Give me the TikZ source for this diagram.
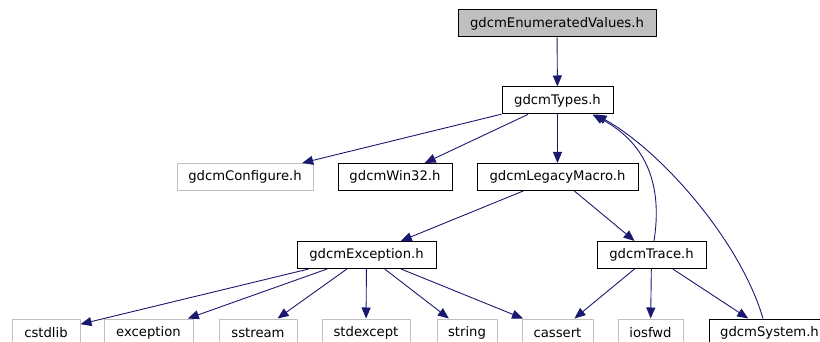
\documentclass[tikz,border=0pt]{standalone}
\usepackage{fontspec}
\setmainfont{DejaVu Sans}
\usetikzlibrary{arrows.meta}
\definecolor{edgecol}{RGB}{25,25,112}
\definecolor{grayb}{RGB}{191,191,191}
\definecolor{fillg}{RGB}{191,191,191}
\tikzset{
  box/.style={draw=black, line width=1pt, rectangle, inner sep=0pt, minimum height=27pt, font=\fontsize{13.2}{15}\selectfont, text=black, fill=white},
  extbox/.style={box, draw=grayb},
  dep/.style={draw=edgecol, line width=0.9pt, -{Triangle[length=11pt,width=9pt]}},
}
\begin{document}
\begin{tikzpicture}[x=1pt,y=-1pt]
\useasboundingbox (0,0) rectangle (820,342);
\clip (0,0) rectangle (820,342);
\node[box, fill=fillg, minimum width=198pt] (enum) at (557,23.5) {gdcmEnumeratedValues.h};
\node[box, minimum width=111pt] (types) at (557.5,100.5) {gdcmTypes.h};
\node[extbox, minimum width=136pt] (configure) at (245,177) {gdcmConfigure.h};
\node[box, minimum width=114pt] (win32) at (395,177) {gdcmWin32.h};
\node[box, minimum width=161pt] (legacy) at (557.5,177) {gdcmLegacyMacro.h};
\node[box, minimum width=139pt] (exception) at (366.5,255) {gdcmException.h};
\node[box, minimum width=109pt] (trace) at (651.5,255) {gdcmTrace.h};
\node[extbox, minimum width=68pt] (cstdlib) at (46,332.5) {cstdlib};
\node[extbox, minimum width=89pt] (exc) at (148.5,332.5) {exception};
\node[extbox, minimum width=78pt] (sstream) at (258,332.5) {sstream};
\node[extbox, minimum width=88pt] (stdexcept) at (366,332.5) {stdexcept};
\node[extbox, minimum width=60pt] (string) at (467,332.5) {string};
\node[extbox, minimum width=71pt] (cassert) at (557.5,332.5) {cassert};
\node[extbox, minimum width=65pt] (iosfwd) at (650.5,332.5) {iosfwd};
\node[box, minimum width=121pt] (system) at (769.5,332.5) {gdcmSystem.h};

\draw[dep] (enum) -- (types);
\draw[dep] (types) -- (configure);
\draw[dep] (types) -- (win32);
\draw[dep] (types) -- (legacy);
\draw[dep] (legacy) -- (exception);
\draw[dep] (legacy) -- (trace);
\draw[dep] ([xshift=2.5pt]trace.north) .. controls (662,190) and (650,145) .. ([xshift=35pt]types.south);
\draw[dep] ([xshift=-6.5pt]system.north) .. controls (740,240) and (660,150) .. ([xshift=38pt,yshift=0pt]types.south);
\draw[dep] (exception) -- (cstdlib);
\draw[dep] (exception) -- (exc);
\draw[dep] (exception) -- (sstream);
\draw[dep] (exception) -- (stdexcept);
\draw[dep] (exception) -- (string);
\draw[dep] (exception) -- (cassert);
\draw[dep] (trace) -- (cassert);
\draw[dep] (trace) -- (iosfwd);
\draw[dep] (trace) -- (system);
\end{tikzpicture}
\end{document}
